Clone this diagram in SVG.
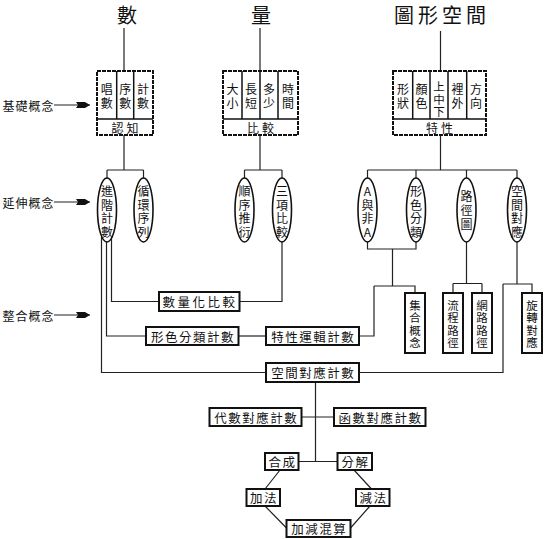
<svg xmlns="http://www.w3.org/2000/svg" width="544" height="539" viewBox="0 0 544 539">
<style>
text{font-family:"Noto Sans CJK TC","Noto Sans CJK SC",sans-serif;fill:#111;text-anchor:middle;dominant-baseline:central}
.t{font-size:20px}
.c{font-size:12px}
.v{font-size:11.5px}
.h{font-size:12.5px;letter-spacing:1.5px}
.lab{font-size:12px;letter-spacing:1px}
.dash{fill:none;stroke:#111;stroke-width:2;stroke-dasharray:4 1}
.sep{fill:none;stroke:#111;stroke-width:1.5}
.box{fill:#fff;stroke:#111;stroke-width:2}
.ell{fill:#fff;stroke:#111;stroke-width:1.6}
.ln{fill:none;stroke:#222;stroke-width:1.2}
.ar{fill:none;stroke:#222;stroke-width:1.2;marker-end:url(#ah)}
</style>
<defs>
<marker id="ah" markerUnits="userSpaceOnUse" viewBox="0 0 14 8" refX="14" refY="4" markerWidth="14" markerHeight="8" orient="auto">
<path d="M0,1 L9,1 L14,4 L9,7 L0,7 L2,4 Z" fill="#111"/>
</marker>
</defs>

<g id="connectors">
<path class="ln" d="M124,28 V71 M260,28 V71 M440.5,31 V71"/>
<path class="ln" d="M124,135 V170 M107,170 H143.5 M107,170 V178 M143.5,170 V178"/>
<path class="ln" d="M260,135 V170 M244.5,170 H282 M244.5,170 V178 M282,170 V178"/>
<path class="ln" d="M440.5,135 V170 M367.5,170 H517 M367.5,170 V178 M416,170 V178 M466.5,170 V178 M517,170 V178"/>
<path class="ln" d="M111.5,238 V301.5 H159"/>
<path class="ln" d="M106.5,242 V336 H146"/>
<path class="ln" d="M101.5,237 V372.5 H266"/>
<path class="ln" d="M282,242 V301.5 H239.5"/>
<path class="ln" d="M238.5,336 H266"/>
<path class="ln" d="M367.5,242 V249 H416 V242 M392.5,249 V286 M374,286 H415 V293 M374,286 V336 H359"/>
<path class="ln" d="M466.5,242 V283.5 M453,283.5 H482 M453,283.5 V293 M482,283.5 V293"/>
<path class="ln" d="M517,242 V284 M503,284 H532 V293 M503,284 V372.5 H359"/>
<path class="ln" d="M315.5,382 V461.5 M301.5,417 H334 M298.5,461.5 H337.5"/>
<path class="ln" d="M280,470 L265,489 M354,470 L371.5,489 M265,506 L286.5,528 M370,506 L350.5,528"/>
<path class="ar" d="M54,105 H90"/>
<path class="ar" d="M54,202 H90"/>
<path class="ar" d="M54,315 H90"/>
</g>

<g id="titles">
<text class="t" x="127" y="14">數</text>
<text class="t" x="261" y="14">量</text>
<text class="t" x="442" y="14" style="letter-spacing:4px">圖形空間</text>
</g>

<g id="levels">
<text class="lab" x="28.5" y="105">基礎概念</text>
<text class="lab" x="28.5" y="202">延伸概念</text>
<text class="lab" x="28.5" y="315">整合概念</text>
</g>

<g id="box-shu">
<rect class="dash" x="97" y="71" width="56" height="64"/>
<path class="sep" d="M116.7,71 V119 M133.7,71 V119 M97,119 H153"/>
<text class="c"><tspan x="106.8" y="88">唱</tspan><tspan x="106.8" y="101.5">數</tspan></text>
<text class="c"><tspan x="125.2" y="88">序</tspan><tspan x="125.2" y="101.5">數</tspan></text>
<text class="c"><tspan x="143" y="88">計</tspan><tspan x="143" y="101.5">數</tspan></text>
<text class="c" x="126.5" y="127.5" style="letter-spacing:3px">認知</text>
</g>

<g id="box-liang">
<rect class="dash" x="223" y="71" width="75" height="64"/>
<path class="sep" d="M242,71 V119 M260,71 V119 M278,71 V119 M223,119 H298"/>
<text class="c"><tspan x="232.5" y="88">大</tspan><tspan x="232.5" y="101.5">小</tspan></text>
<text class="c"><tspan x="251" y="88">長</tspan><tspan x="251" y="101.5">短</tspan></text>
<text class="c"><tspan x="269" y="88">多</tspan><tspan x="269" y="101.5">少</tspan></text>
<text class="c"><tspan x="288" y="88">時</tspan><tspan x="288" y="101.5">間</tspan></text>
<text class="c" x="262" y="127.5" style="letter-spacing:3px">比較</text>
</g>

<g id="box-tuxing">
<rect class="dash" x="393" y="71" width="93" height="64"/>
<path class="sep" d="M412.7,71 V119 M430,71 V119 M448,71 V119 M466.7,71 V119 M393,119 H486"/>
<text class="c"><tspan x="403" y="88">形</tspan><tspan x="403" y="101.5">狀</tspan></text>
<text class="c"><tspan x="421.5" y="88">顏</tspan><tspan x="421.5" y="101.5">色</tspan></text>
<text class="v"><tspan x="439" y="86">上</tspan><tspan x="439" y="98.5">中</tspan><tspan x="439" y="111">下</tspan></text>
<text class="c"><tspan x="457.5" y="88">裡</tspan><tspan x="457.5" y="101.5">外</tspan></text>
<text class="c"><tspan x="476" y="88">方</tspan><tspan x="476" y="101.5">向</tspan></text>
<text class="c" x="441" y="127.5" style="letter-spacing:3px">特性</text>
</g>

<g id="e-jinjie">
<ellipse class="ell" cx="107" cy="210" rx="9.5" ry="32"/>
<text class="c"><tspan x="107" y="190">進</tspan><tspan x="107" y="203.5">階</tspan><tspan x="107" y="217">計</tspan><tspan x="107" y="230.5">數</tspan></text>
</g>
<g id="e-xunhuan">
<ellipse class="ell" cx="143.5" cy="210" rx="9.5" ry="32"/>
<text class="c"><tspan x="143.5" y="190">循</tspan><tspan x="143.5" y="203.5">環</tspan><tspan x="143.5" y="217">序</tspan><tspan x="143.5" y="230.5">列</tspan></text>
</g>
<g id="e-shunxu">
<ellipse class="ell" cx="244.5" cy="210" rx="9.5" ry="32"/>
<text class="c"><tspan x="244.5" y="190">順</tspan><tspan x="244.5" y="203.5">序</tspan><tspan x="244.5" y="217">推</tspan><tspan x="244.5" y="230.5">衍</tspan></text>
</g>
<g id="e-sanxiang">
<ellipse class="ell" cx="282" cy="210" rx="9.5" ry="32"/>
<text class="c"><tspan x="282" y="190">三</tspan><tspan x="282" y="203.5">項</tspan><tspan x="282" y="217">比</tspan><tspan x="282" y="230.5">較</tspan></text>
</g>
<g id="e-ayufeia">
<ellipse class="ell" cx="367.5" cy="210" rx="9.5" ry="32"/>
<text class="c"><tspan x="367.5" y="190">A</tspan><tspan x="367.5" y="203.5">與</tspan><tspan x="367.5" y="217">非</tspan><tspan x="367.5" y="230.5">A</tspan></text>
</g>
<g id="e-xingse">
<ellipse class="ell" cx="416" cy="210" rx="9.5" ry="32"/>
<text class="c"><tspan x="416" y="190">形</tspan><tspan x="416" y="203.5">色</tspan><tspan x="416" y="217">分</tspan><tspan x="416" y="230.5">類</tspan></text>
</g>
<g id="e-lujing">
<ellipse class="ell" cx="466.5" cy="210" rx="9.5" ry="32"/>
<text class="c"><tspan x="466.5" y="195">路</tspan><tspan x="466.5" y="209">徑</tspan><tspan x="466.5" y="223">圖</tspan></text>
</g>
<g id="e-kongjian">
<ellipse class="ell" cx="517" cy="210" rx="9.5" ry="32"/>
<text class="c"><tspan x="517" y="190">空</tspan><tspan x="517" y="203.5">間</tspan><tspan x="517" y="217">對</tspan><tspan x="517" y="230.5">應</tspan></text>
</g>

<g id="b-jihe">
<rect class="box" x="405" y="293" width="20" height="60"/>
<text class="v"><tspan x="415" y="304.5">集</tspan><tspan x="415" y="317">合</tspan><tspan x="415" y="329.5">概</tspan><tspan x="415" y="342">念</tspan></text>
</g>
<g id="b-liucheng">
<rect class="box" x="443" y="293" width="20" height="60"/>
<text class="v"><tspan x="453" y="304.5">流</tspan><tspan x="453" y="317">程</tspan><tspan x="453" y="329.5">路</tspan><tspan x="453" y="342">徑</tspan></text>
</g>
<g id="b-wanglu">
<rect class="box" x="472" y="293" width="20" height="60"/>
<text class="v"><tspan x="482" y="304.5">網</tspan><tspan x="482" y="317">路</tspan><tspan x="482" y="329.5">路</tspan><tspan x="482" y="342">徑</tspan></text>
</g>
<g id="b-xuanzhuan">
<rect class="box" x="522" y="293" width="20" height="60"/>
<text class="v"><tspan x="532" y="304.5">旋</tspan><tspan x="532" y="317">轉</tspan><tspan x="532" y="329.5">對</tspan><tspan x="532" y="342">應</tspan></text>
</g>

<g id="b-shuliang">
<rect class="box" x="159" y="292" width="80.5" height="19"/>
<text class="h" x="200" y="301.5" style="letter-spacing:2.5px">數量化比較</text>
</g>
<g id="b-xingsefenlei">
<rect class="box" x="146" y="327" width="92.5" height="18"/>
<text class="h" x="193" y="336">形色分類計數</text>
</g>
<g id="b-texing">
<rect class="box" x="266" y="327" width="93" height="18"/>
<text class="h" x="313.3" y="336">特性運輯計數</text>
</g>
<g id="b-kongjianjishu">
<rect class="box" x="266" y="363" width="93" height="19"/>
<text class="h" x="313.3" y="372.5">空間對應計數</text>
</g>
<g id="b-daishu">
<rect class="box" x="209.5" y="408" width="92" height="18"/>
<text class="h" x="256.3" y="417">代數對應計數</text>
</g>
<g id="b-hanshu">
<rect class="box" x="334" y="408" width="91.5" height="18"/>
<text class="h" x="380.5" y="417">函數對應計數</text>
</g>
<g id="b-hecheng">
<rect class="box" x="265" y="453" width="33.5" height="17"/>
<text class="h" x="282.5" y="461.5">合成</text>
</g>
<g id="b-fenjie">
<rect class="box" x="337.5" y="453" width="34.5" height="17"/>
<text class="h" x="355.5" y="461.5">分解</text>
</g>
<g id="b-jiafa">
<rect class="box" x="246.5" y="489" width="33.5" height="17"/>
<text class="h" x="264" y="497.5">加法</text>
</g>
<g id="b-jianfa">
<rect class="box" x="356" y="489" width="33.5" height="17"/>
<text class="h" x="373.5" y="497.5">減法</text>
</g>
<g id="b-jiajian">
<rect class="box" x="286.5" y="520" width="64" height="17"/>
<text class="h" x="319.3" y="528.5">加減混算</text>
</g>
</svg>
